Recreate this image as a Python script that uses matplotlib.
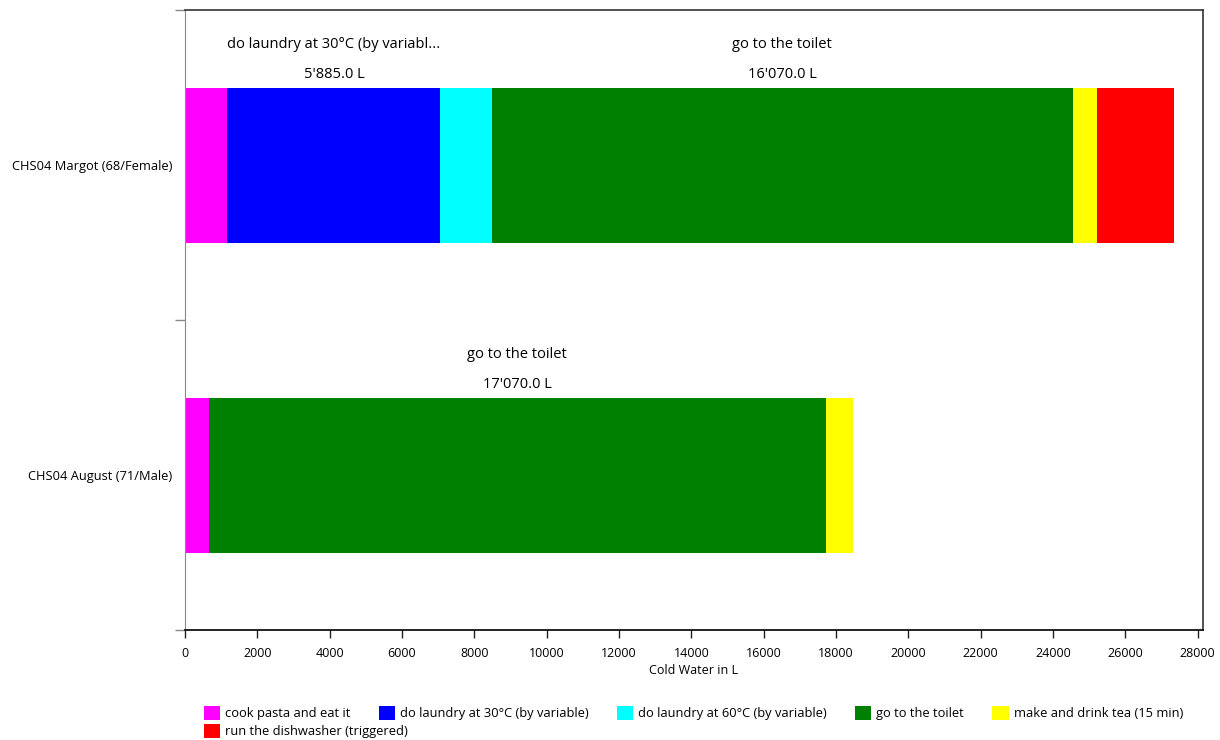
import matplotlib
matplotlib.use("Agg")
import matplotlib.pyplot as plt
import numpy as np
from matplotlib.patches import Patch

plt.rcParams['font.family'] = ['Open Sans', 'DejaVu Sans']

persons = ["CHS04 Margot (68/Female)", "CHS04 August (71/Male)"]
activities = ["cook pasta and eat it", "do laundry at 30°C (by variable)",
              "do laundry at 60°C (by variable)", "go to the toilet",
              "make and drink tea (15 min)", "run the dishwasher (triggered)"]
colors = ["#FF00FF", "#0000FF", "#00FFFF", "#008000", "#FFFF00", "#FF0000"]
# values per activity: [Margot, August]
cook = [1175, 650]
laundry30 = [5885, 0]
laundry60 = [1420, 0]
toilet = [16070, 17070]
tea = [660, 745]
dishwasher = [2130, 0]
series = [cook, laundry30, laundry60, toilet, tea, dishwasher]
xticks = list(range(0, 28001, 2000))

W, H = 1220, 740
fig = plt.figure(figsize=(W/100, H/100), dpi=100)
ax = fig.add_axes([185/W, (H-630)/H, (1203-185)/W, 620/H])

y = np.arange(len(persons))
left = np.zeros(len(persons))
for name, vals, c in zip(activities, series, colors):
    vals = np.array(vals, dtype=float)
    ax.barh(y, vals, left=left, height=0.5, color=c, edgecolor='none', label=name)
    for yi, (l, v) in enumerate(zip(left, vals)):
        if v > 4000:
            lbl = name if len(name) <= 30 else name[:30] + "..."
            xc = l + v / 2
            ytop = yi - 0.25
            ax.annotate(f"{v:,.1f} L".replace(",", "'"), (xc, ytop), xytext=(0, 13),
                        textcoords='offset pixels', ha='center', va='center', fontsize=10.5)
            ax.annotate(lbl, (xc, ytop), xytext=(0, 43),
                        textcoords='offset pixels', ha='center', va='center', fontsize=10.5)
    left = left + vals

ax.set_xlim(0, 28150)
ax.set_ylim(1.5, -0.5)
ax.set_xticks(xticks)
ax.tick_params(axis='x', direction='out', length=6, width=1, color='#222222', labelsize=9, pad=6)
ax.set_yticks([-0.5, 0.5, 1.5])
ax.set_yticklabels([])
ax.set_yticks(y, minor=True)
ax.set_yticklabels(persons, minor=True)
ax.tick_params(axis='y', which='major', length=7, color='#888888', width=1)
ax.tick_params(axis='y', which='minor', length=0, labelsize=9.3, pad=9)
ax.set_xlabel("Cold Water in L", fontsize=9, labelpad=3)

ax.spines['bottom'].set_color('#111111')
ax.spines['bottom'].set_linewidth(1.3)
ax.spines['left'].set_color('#888888')
ax.spines['top'].set_color('#333333')
ax.spines['right'].set_color('#333333')
ax.spines['top'].set_linewidth(1.2)
ax.spines['right'].set_linewidth(1.2)

handles = [Patch(facecolor=c, edgecolor='none', label=a) for a, c in zip(activities, colors)]
common = dict(frameon=False, fontsize=9.25, handlelength=1.25, handleheight=1.25,
              handletextpad=0.4, borderpad=0, borderaxespad=0, columnspacing=2.2,
              loc='upper left')
leg1 = fig.legend(handles=handles[:5], ncol=5, bbox_to_anchor=(204/W, 1-706/H), **common)
leg2 = fig.legend(handles=handles[5:], ncol=1, bbox_to_anchor=(204/W, 1-724/H), **common)

fig.savefig("out.png", dpi=100)
